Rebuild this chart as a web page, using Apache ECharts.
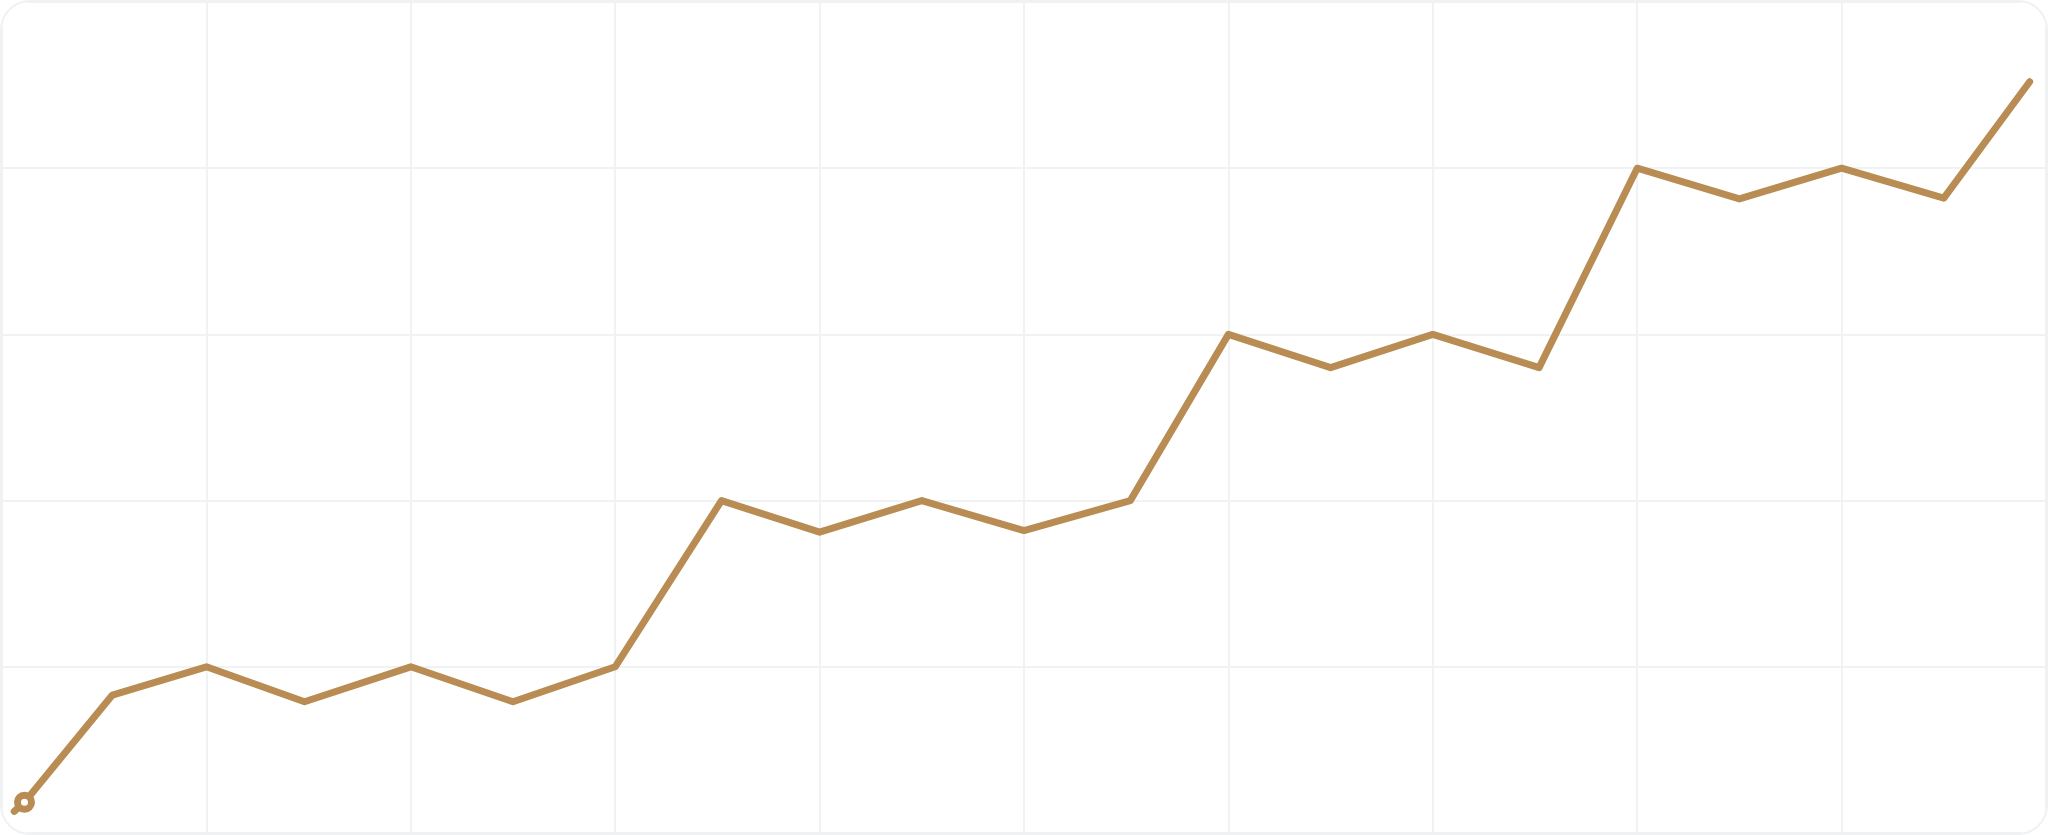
<!DOCTYPE html>
<html>
<head>
<meta charset="utf-8">
<script src="https://cdn.jsdelivr.net/npm/echarts@6/dist/echarts.min.js"></script>
<style>
    html, body { margin: 0; padding: 0; background: #fff; }
    #wrap {
        width: 2048px;
        height: 835px;
        box-sizing: border-box;
        border: 2px solid #f0f1f3;
        border-radius: 30px;
        overflow: hidden;
    }
    #chart { width: 100%; height: 100%; }
</style>
</head>
<body>
<div id="wrap"><div id="chart"></div></div>
<script>
// x positions (0-100 along the axis) and values of the line
const xs = [0.6, 1.1, 5.4, 10, 14.8, 20, 25, 30, 35.2, 40, 45, 50, 55.2, 60, 65, 70, 75.2, 80, 85, 90, 95, 99.2]
const ys = [2.6, 3.7, 16.6, 20, 15.8, 20, 15.8, 20, 40, 36.2, 40, 36.4, 40, 60, 56, 60, 56, 80, 76.3, 80, 76.4, 90.4]
// the only point drawn with a marker
const markerIndex = 1

const lineColor = '#b88c53'
const gridColor = '#f1f2f4'

const data = xs.map((x, i) => {
    const item = { value: [x, ys[i]] }
    if (i === markerIndex) {
        item.symbol = 'circle'
        item.symbolSize = 14
        item.itemStyle = { color: '#fff', borderColor: lineColor, borderWidth: 7 }
    }
    return item
})

const axisCommon = {
    type: 'value',
    axisLine: { show: false },
    axisTick: { show: false },
    axisLabel: { show: false },
    splitLine: { show: true, lineStyle: { color: gridColor, width: 2 } }
}

const chart = echarts.init(document.getElementById('chart'))
chart.setOption({
    animation: false,
    grid: { left: 0, right: 0, top: 0, bottom: 0, containLabel: false },
    xAxis: Object.assign({}, axisCommon, { min: 0, max: 100, interval: 10 }),
    yAxis: Object.assign({}, axisCommon, { min: 0, max: 100, interval: 20 }),
    series: [{
        type: 'line',
        data,
        symbol: 'none',
        showSymbol: true,
        clip: false,
        lineStyle: { color: lineColor, width: 7, cap: 'round', join: 'round' },
        itemStyle: { color: lineColor }
    }]
})
</script>
</body>
</html>
